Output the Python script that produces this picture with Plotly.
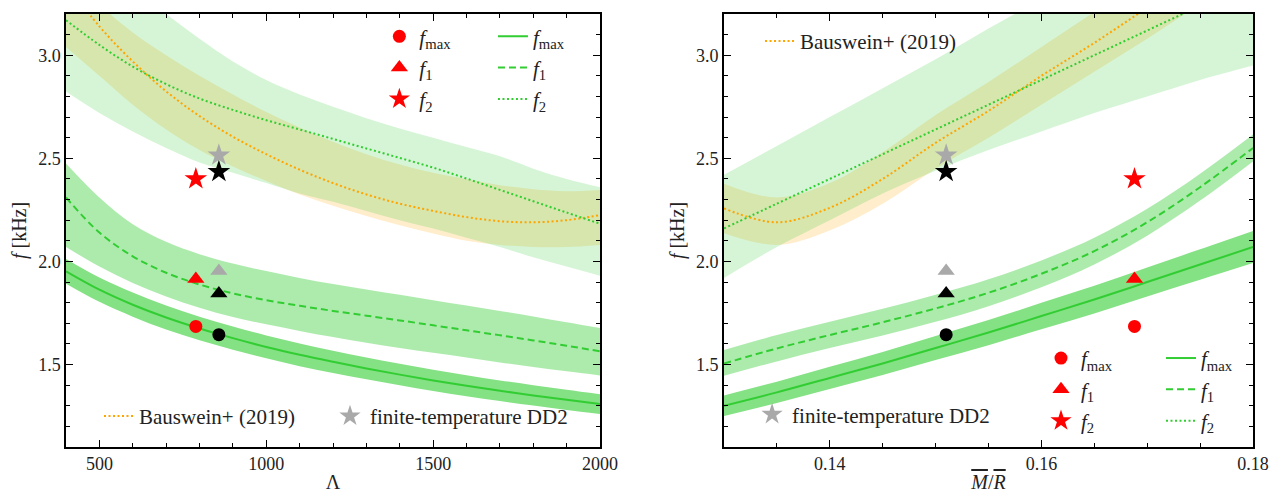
import plotly.graph_objects as go
from plotly.subplots import make_subplots

# ---------------- data: left panel (Lambda) ----------------
lam = [400, 500, 600, 700, 800, 900, 1000, 1100, 1200, 1300, 1400, 1500, 1600, 1700, 1800, 1900, 2000]

fmax_L = [1.952, 1.863, 1.790, 1.728, 1.675, 1.628, 1.585, 1.547, 1.513, 1.481, 1.451, 1.423, 1.397, 1.373, 1.350, 1.329, 1.308]
fmax_L_lo = [1.892, 1.804, 1.732, 1.670, 1.618, 1.572, 1.530, 1.492, 1.459, 1.428, 1.399, 1.371, 1.346, 1.323, 1.301, 1.280, 1.260]
fmax_L_hi = [2.012, 1.922, 1.849, 1.786, 1.732, 1.684, 1.641, 1.602, 1.567, 1.534, 1.504, 1.475, 1.448, 1.423, 1.400, 1.378, 1.356]

f1_L = [2.31, 2.14, 2.025, 1.945, 1.888, 1.845, 1.812, 1.785, 1.76, 1.737, 1.714, 1.69, 1.666, 1.642, 1.617, 1.591, 1.564]
f1_L_lo = [2.07, 1.975, 1.895, 1.83, 1.775, 1.73, 1.695, 1.663, 1.633, 1.605, 1.58, 1.557, 1.534, 1.51, 1.488, 1.467, 1.447]
f1_L_hi = [2.475, 2.31, 2.18, 2.095, 2.035, 1.99, 1.953, 1.92, 1.89, 1.864, 1.838, 1.812, 1.786, 1.76, 1.733, 1.705, 1.677]

f2_L = [3.17, 3.05, 2.945, 2.86, 2.79, 2.735, 2.685, 2.64, 2.594, 2.548, 2.502, 2.455, 2.402, 2.347, 2.292, 2.237, 2.183]
f2_L_lo = [2.824, 2.72, 2.63, 2.55, 2.48, 2.43, 2.38, 2.33, 2.29, 2.245, 2.20, 2.16, 2.115, 2.07, 2.02, 1.975, 1.93]
f2_L_hi = [3.65, 3.48, 3.33, 3.2, 3.08, 2.97, 2.88, 2.81, 2.75, 2.695, 2.645, 2.60, 2.555, 2.51, 2.45, 2.40, 2.36]

baus_L = [3.35, 3.14, 2.97, 2.825, 2.705, 2.605, 2.52, 2.445, 2.38, 2.325, 2.28, 2.245, 2.215, 2.195, 2.19, 2.20, 2.225]
baus_L_lo = [3.04, 2.90, 2.76, 2.64, 2.54, 2.46, 2.39, 2.325, 2.27, 2.22, 2.175, 2.135, 2.10, 2.08, 2.07, 2.07, 2.08]
baus_L_hi = [3.45, 3.25, 3.11, 3.0, 2.90, 2.81, 2.725, 2.65, 2.58, 2.52, 2.47, 2.43, 2.40, 2.37, 2.35, 2.34, 2.346]

# ---------------- data: right panel (M/R) ----------------
mr = [0.13, 0.135, 0.14, 0.145, 0.15, 0.155, 0.16, 0.165, 0.17, 0.175, 0.18]

fmax_R = [1.30, 1.365, 1.435, 1.505, 1.58, 1.655, 1.735, 1.815, 1.90, 1.985, 2.07]
fmax_R_lo = [1.25, 1.313, 1.381, 1.449, 1.522, 1.594, 1.671, 1.748, 1.83, 1.911, 1.992]
fmax_R_hi = [1.35, 1.417, 1.489, 1.561, 1.638, 1.716, 1.799, 1.882, 1.97, 2.059, 2.148]

f1_R = [1.505, 1.578, 1.643, 1.705, 1.772, 1.848, 1.94, 2.05, 2.19, 2.36, 2.55]
f1_R_lo = [1.445, 1.515, 1.58, 1.641, 1.707, 1.783, 1.875, 1.985, 2.125, 2.295, 2.485]
f1_R_hi = [1.57, 1.643, 1.708, 1.77, 1.838, 1.913, 2.005, 2.115, 2.255, 2.425, 2.615]

f2_R = [2.16, 2.28, 2.40, 2.52, 2.64, 2.76, 2.88, 3.00, 3.12, 3.24, 3.36]
f2_R_lo = [1.92, 2.07, 2.20, 2.33, 2.44, 2.54, 2.63, 2.72, 2.80, 2.88, 2.95]
f2_R_hi = [2.42, 2.56, 2.70, 2.84, 2.98, 3.13, 3.27, 3.41, 3.55, 3.69, 3.83]

baus_R = [2.257, 2.19, 2.26, 2.40, 2.575, 2.73, 2.90, 3.06, 3.23, 3.40, 3.57]
baus_R_lo = [2.137, 2.08, 2.15, 2.28, 2.45, 2.60, 2.76, 2.92, 3.08, 3.25, 3.42]
baus_R_hi = [2.377, 2.31, 2.38, 2.53, 2.71, 2.87, 3.04, 3.21, 3.38, 3.55, 3.72]

# ---------------- data: simulation points ----------------
lam_red, lam_dd2 = 789, 858
mr_red, mr_dd2 = 0.1688, 0.1510
red_vals = {"fmax": 1.685, "f1": 1.915, "f2": 2.40}
black_vals = {"fmax": 1.645, "f1": 1.845, "f2": 2.435}
gray_vals = {"f1": 1.953, "f2": 2.515}

GREEN = "rgb(50,205,50)"
ORANGE = "rgb(255,165,0)"
FONT = "Liberation Serif"
TXT = "#222"

fig = make_subplots(rows=1, cols=2, horizontal_spacing=0.1)


def band(x, lo, hi, color, col):
    fig.add_trace(go.Scatter(x=x, y=lo, mode="lines", line=dict(width=0, shape="spline"),
                             hoverinfo="skip", showlegend=False), row=1, col=col)
    fig.add_trace(go.Scatter(x=x, y=hi, mode="lines", line=dict(width=0, shape="spline"),
                             fill="tonexty", fillcolor=color,
                             hoverinfo="skip", showlegend=False), row=1, col=col)


panels = [
    (1, lam, (fmax_L, fmax_L_lo, fmax_L_hi), (f1_L, f1_L_lo, f1_L_hi), (f2_L, f2_L_lo, f2_L_hi),
     (baus_L, baus_L_lo, baus_L_hi), lam_red, lam_dd2, ["legend", "legend2", "legend3", "legend4"]),
    (2, mr, (fmax_R, fmax_R_lo, fmax_R_hi), (f1_R, f1_R_lo, f1_R_hi), (f2_R, f2_R_lo, f2_R_hi),
     (baus_R, baus_R_lo, baus_R_hi), mr_red, mr_dd2, ["legend5", "legend6", "legend7", "legend8"]),
]

DOT = "2px,2.5px"
for col, x, fm, f1, f2, bs, xr, xd, lg in panels:
    band(x, bs[1], bs[2], "rgba(255,165,0,0.2)", col)
    band(x, f2[1], f2[2], "rgba(50,205,50,0.2)", col)
    band(x, f1[1], f1[2], "rgba(50,205,50,0.4)", col)
    band(x, fm[1], fm[2], "rgba(50,205,50,0.6)", col)
    fig.add_trace(go.Scatter(x=x, y=bs[0], mode="lines", line=dict(color=ORANGE, width=2, dash=DOT, shape="spline"),
                             name="Bauswein+ (2019)", legend=lg[2], legendgroup=f"b{col}"), row=1, col=col)
    fig.add_trace(go.Scatter(x=x, y=fm[0], mode="lines", line=dict(color=GREEN, width=2, shape="spline"),
                             name="<i>f</i><sub>max</sub>", legend=lg[1], legendgroup=f"lm{col}"), row=1, col=col)
    fig.add_trace(go.Scatter(x=x, y=f1[0], mode="lines", line=dict(color=GREEN, width=2, dash="7px,4px", shape="spline"),
                             name="<i>f</i><sub>1</sub>", legend=lg[1], legendgroup=f"l1{col}"), row=1, col=col)
    fig.add_trace(go.Scatter(x=x, y=f2[0], mode="lines", line=dict(color=GREEN, width=2, dash=DOT, shape="spline"),
                             name="<i>f</i><sub>2</sub>", legend=lg[1], legendgroup=f"l2{col}"), row=1, col=col)
    # gray (finite-temperature DD2)
    fig.add_trace(go.Scatter(x=[xd], y=[gray_vals["f1"]], mode="markers",
                             marker=dict(symbol="triangle-up", size=15, color="darkgray"),
                             showlegend=False), row=1, col=col)
    fig.add_trace(go.Scatter(x=[xd], y=[gray_vals["f2"]], mode="markers",
                             marker=dict(symbol="star", size=17, color="darkgray"),
                             name="finite-temperature DD2", legend=lg[3], legendgroup=f"g{col}"), row=1, col=col)
    # black
    for key, sym, sz in [("fmax", "circle", 13), ("f1", "triangle-up", 15), ("f2", "star", 17)]:
        fig.add_trace(go.Scatter(x=[xd], y=[black_vals[key]], mode="markers",
                                 marker=dict(symbol=sym, size=sz, color="black"), showlegend=False), row=1, col=col)
    # red
    for key, sym, sz, nm in [("fmax", "circle", 13, "<i>f</i><sub>max</sub>"),
                             ("f1", "triangle-up", 15, "<i>f</i><sub>1</sub>"),
                             ("f2", "star", 17, "<i>f</i><sub>2</sub>")]:
        fig.add_trace(go.Scatter(x=[xr], y=[red_vals[key]], mode="markers",
                                 marker=dict(symbol=sym, size=sz, color="red"),
                                 name=nm, legend=lg[0], legendgroup=f"r{key}{col}"), row=1, col=col)

axis_common = dict(showline=True, linecolor="black", linewidth=1.5, mirror="allticks",
                   ticks="inside", ticklen=7, tickwidth=1.2, tickcolor="black",
                   showgrid=False, zeroline=False, automargin=False,
                   tickfont=dict(family=FONT, size=18, color=TXT),
                   title_font=dict(family=FONT, size=20, color=TXT))

fig.update_xaxes(**axis_common)
fig.update_yaxes(**axis_common)

fig.update_xaxes(range=[400, 2000], dtick=500, tick0=0,
                 minor=dict(dtick=100, ticks="inside", ticklen=4, tickcolor="black"),
                 title_text="Λ", title_standoff=4, domain=[0, 0.4499], row=1, col=1)
fig.update_xaxes(range=[0.13, 0.18], dtick=0.02, tick0=0, tickformat=".2f",
                 minor=dict(dtick=0.005, ticks="inside", ticklen=4, tickcolor="black"),
                 title_text="<span style='text-decoration:overline'><i>M</i></span>/<span style='text-decoration:overline'><i>R</i></span>",
                 title_standoff=4, domain=[0.5543, 1], row=1, col=2)
for c in (1, 2):
    fig.update_yaxes(range=[1.1, 3.2], dtick=0.5, tick0=0, tickformat=".1f",
                     minor=dict(dtick=0.1, ticks="inside", ticklen=4, tickcolor="black"),
                     title_text="<i>f</i> [kHz]", title_standoff=6, row=1, col=c)

leg = dict(bgcolor="rgba(0,0,0,0)", borderwidth=0, font=dict(family=FONT, size=21, color=TXT),
           xanchor="left", yanchor="top", tracegroupgap=1, itemclick=False)

# the page body adds an 8 px offset, so the figure is 8 px smaller than the window
fig.update_layout(
    width=1273, height=485,
    margin=dict(l=58, r=28, t=6, b=46),
    plot_bgcolor="white", paper_bgcolor="white",
    font=dict(family=FONT, size=19, color=TXT),
    legend=dict(leg, x=0.264, y=0.995),
    legend2=dict(leg, x=0.3597, y=0.995),
    legend3=dict(leg, x=0.0278, y=0.118),
    legend4=dict(leg, x=0.2224, y=0.118),
    legend5=dict(leg, x=0.8214, y=0.252),
    legend6=dict(leg, x=0.9225, y=0.252),
    legend7=dict(leg, x=0.5847, y=0.984),
    legend8=dict(leg, x=0.578, y=0.122),
)

fig.write_html("out.html")
